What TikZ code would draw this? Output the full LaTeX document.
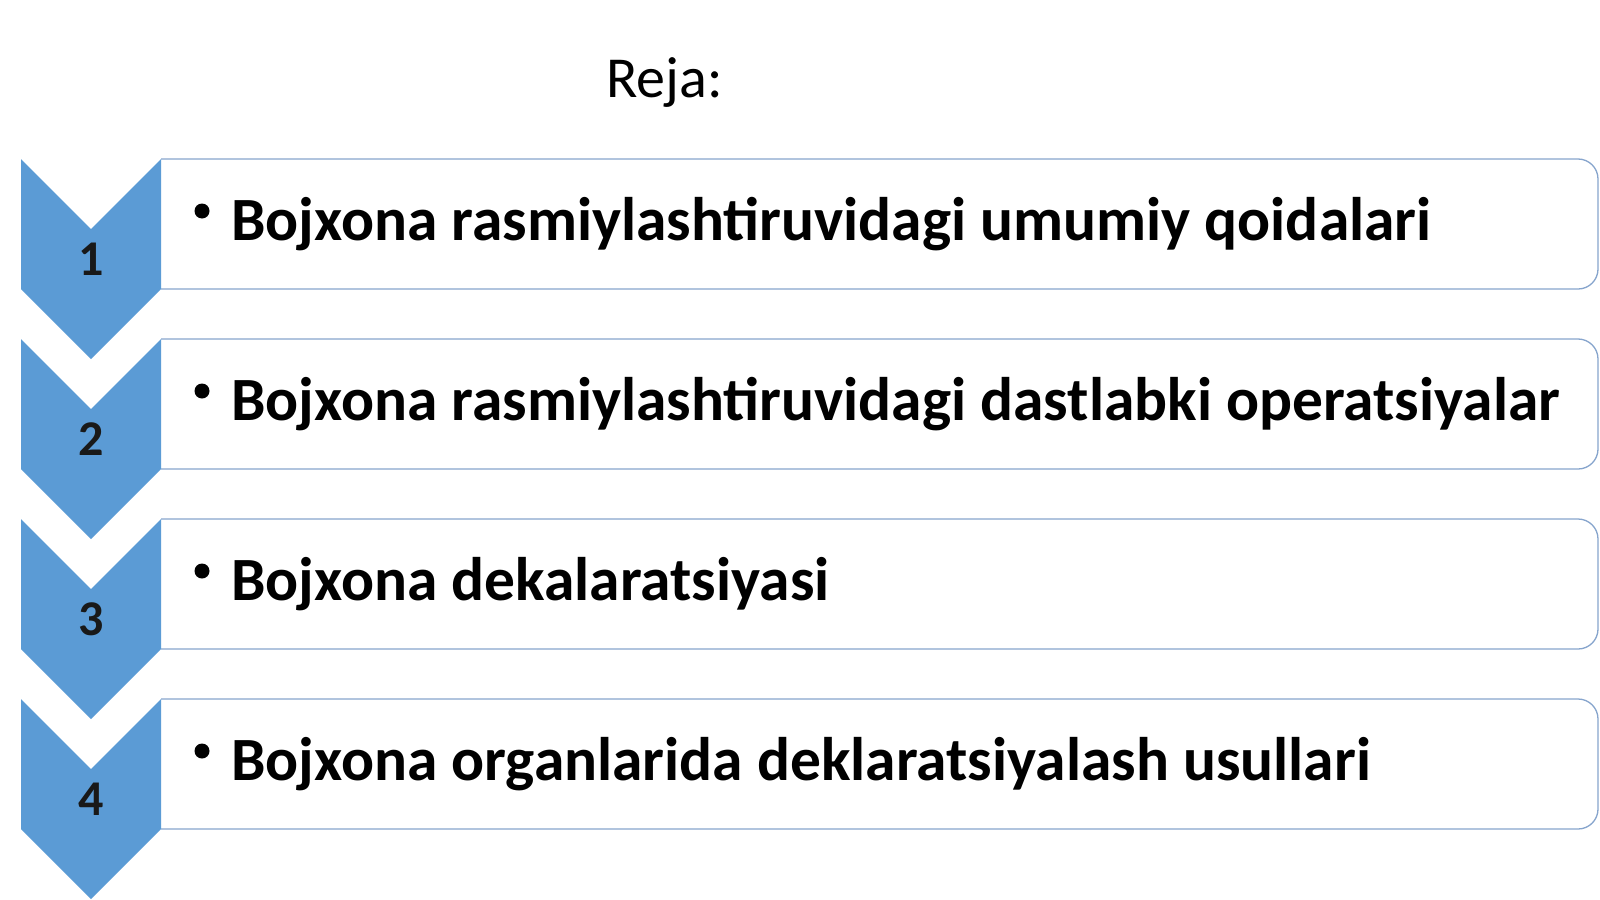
\documentclass[tikz,border=0pt]{standalone}
\usepackage{fontspec}
\setmainfont{Carlito}
\definecolor{chevblue}{RGB}{91,155,213}
\definecolor{boxline}{RGB}{135,165,205}

\begin{document}
\begin{tikzpicture}[x=1pt,y=-1pt,
    chev/.style={fill=chevblue, draw=none},
    itembox/.style={draw=boxline, line width=1.3pt, fill=white, rounded corners=20pt},
    numlabel/.style={font=\fontsize{50}{60}\selectfont\bfseries, text=black!90},
    bulletdot/.style={circle, fill=black, inner sep=0pt, minimum size=15pt},
    itemtext/.style={anchor=base west, inner sep=0pt, font=\fontsize{61.5}{74}\selectfont\bfseries}]
    \useasboundingbox (0,0) rectangle (1600,899);

    \node[anchor=base west, inner sep=0pt, font=\fontsize{58}{70}\selectfont] (title) at (606,97) {Reja:};

    \foreach \i/\txt in {1/Bojxona rasmiylashtiruvidagi umumiy qoidalari,
                         2/Bojxona rasmiylashtiruvidagi dastlabki operatsiyalar,
                         3/Bojxona dekalaratsiyasi,
                         4/Bojxona organlarida deklaratsiyalash usullari} {
        \pgfmathsetmacro{\ytop}{159+180*(\i-1)}
        \filldraw[itembox] (161,\ytop) -- (1598,\ytop) -- (1598,\ytop+130) -- (161,\ytop+130);
        \fill[chev] (21,\ytop) -- (91,\ytop+70) -- (161,\ytop) -- (161,\ytop+130)
            -- (91,\ytop+200) -- (21,\ytop+130) -- cycle;
        \node[numlabel] (num\i) at (91,\ytop+100) {\i};
        \node[bulletdot] (bul\i) at (202,\ytop+52) {};
        \node[itemtext] (txt\i) at (231,\ytop+81) {\txt};
    }
\end{tikzpicture}
\end{document}
